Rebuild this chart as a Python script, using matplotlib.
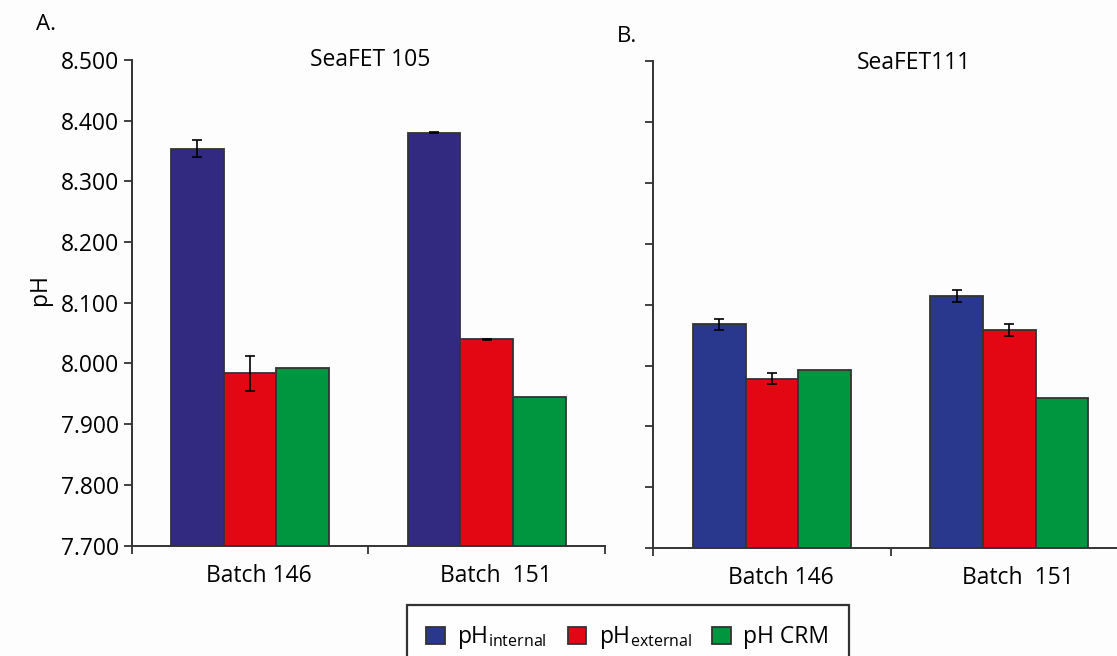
import matplotlib
matplotlib.use("Agg")
import matplotlib.pyplot as plt
import matplotlib.transforms as mtransforms
from matplotlib.patches import Patch
import numpy as np

plt.rcParams['font.family'] = ['Open Sans', 'DejaVu Sans']
plt.rcParams['mathtext.fontset'] = 'custom'
plt.rcParams['mathtext.rm'] = 'Open Sans'

# data
categories = ['Batch 146', 'Batch  151']
series = ['pH$_{\\mathregular{internal}}$', 'pH$_{\\mathregular{external}}$', 'pH CRM']

a_internal = [8.354, 8.380]
a_internal_err = [0.014, 0.0006]
a_external = [7.984, 8.040]
a_external_err = [0.029, 0.0006]
a_crm = [7.993, 7.945]

b_internal = [8.068, 8.114]
b_internal_err = [0.009, 0.010]
b_external = [7.978, 8.059]
b_external_err = [0.009, 0.010]
b_crm = [7.993, 7.946]

red = '#E30613'
green = '#00963F'
blue_a = '#312A80'
blue_b = '#29378C'
edge = '#333333'

fig = plt.figure(figsize=(11.17, 6.56), dpi=100)
fig.patch.set_facecolor('#FDFDFD')

axA = fig.add_axes([0.1179, 0.1684, 0.4237, 0.7401])
axB = fig.add_axes([0.5849, 0.1642, 0.4249, 0.7428])

w = 2 / 9
x = np.arange(len(categories)) + 0.5


def draw(ax, vals, errs, colors, show_labels):
    for k, (v, e, c) in enumerate(zip(vals, errs, colors)):
        ax.bar(x + (k - 1) * w, v, width=w, color=c, edgecolor=edge, linewidth=1.3,
               zorder=2)
        if e is not None:
            ax.errorbar(x + (k - 1) * w, v, yerr=e, fmt='none', ecolor='black',
                        elinewidth=1.2, capsize=3.5, capthick=1.2, zorder=3)
    ax.set_xlim(0, 2)
    ax.set_ylim(7.7, 8.5)
    ax.set_yticks(np.arange(7.7, 8.501, 0.1))
    if show_labels:
        ax.set_yticklabels(['%.3f' % t for t in np.arange(7.7, 8.501, 0.1)])
    else:
        ax.set_yticklabels([])
    ax.set_xticks([0, 1, 2])
    ax.set_xticklabels([])
    ax.set_xticks(x, minor=True)
    ax.set_xticklabels(categories, minor=True, fontsize=16.5)
    ax.tick_params(axis='x', which='minor', length=0, pad=13)
    ax.tick_params(axis='x', which='major', length=6, width=1.3, color=edge, direction='out')
    ax.tick_params(axis='y', length=6, width=1.3, color=edge, labelsize=16.5, pad=3)
    for s in ['top', 'right']:
        ax.spines[s].set_visible(False)
    for s in ['left', 'bottom']:
        ax.spines[s].set_color(edge)
        ax.spines[s].set_linewidth(1.4)
    ax.set_facecolor('none')
    shift = mtransforms.ScaledTranslation(0.09, 0, fig.dpi_scale_trans)
    for lab in ax.get_xticklabels(minor=True):
        lab.set_transform(lab.get_transform() + shift)


draw(axA, [a_internal, a_external, a_crm],
     [a_internal_err, a_external_err, None], [blue_a, red, green], True)
draw(axB, [b_internal, b_external, b_crm],
     [b_internal_err, b_external_err, None], [blue_b, red, green], False)

fig.text(36 / 1117, 1 - 25 / 656, 'A.', fontsize=16, ha='left', va='center')
fig.text(617 / 1117, 1 - 36 / 656, 'B.', fontsize=16, ha='left', va='center')
fig.text(370 / 1117, 1 - 60 / 656, 'SeaFET 105', fontsize=16.5, ha='center', va='center')
fig.text(914 / 1117, 1 - 63 / 656, 'SeaFET111', fontsize=16.5, ha='center', va='center')
fig.text(40 / 1117, 1 - 290 / 656, 'pH', fontsize=16.5, ha='center', va='center',
         rotation=90)

handles = [Patch(facecolor=c, edgecolor=edge, linewidth=1.3)
           for c in [blue_b, red, green]]
leg = fig.legend(handles, series, loc='upper left',
                 bbox_to_anchor=(407 / 1117, 1 - 605 / 656), ncol=3,
                 fontsize=16.5, frameon=True, fancybox=False,
                 edgecolor='black', handlelength=0.8, handleheight=0.8,
                 handletextpad=0.55, columnspacing=0.9, borderpad=0.85,
                 borderaxespad=0)
leg.get_frame().set_linewidth(1.6)

plt.savefig('out.png', dpi=100)
